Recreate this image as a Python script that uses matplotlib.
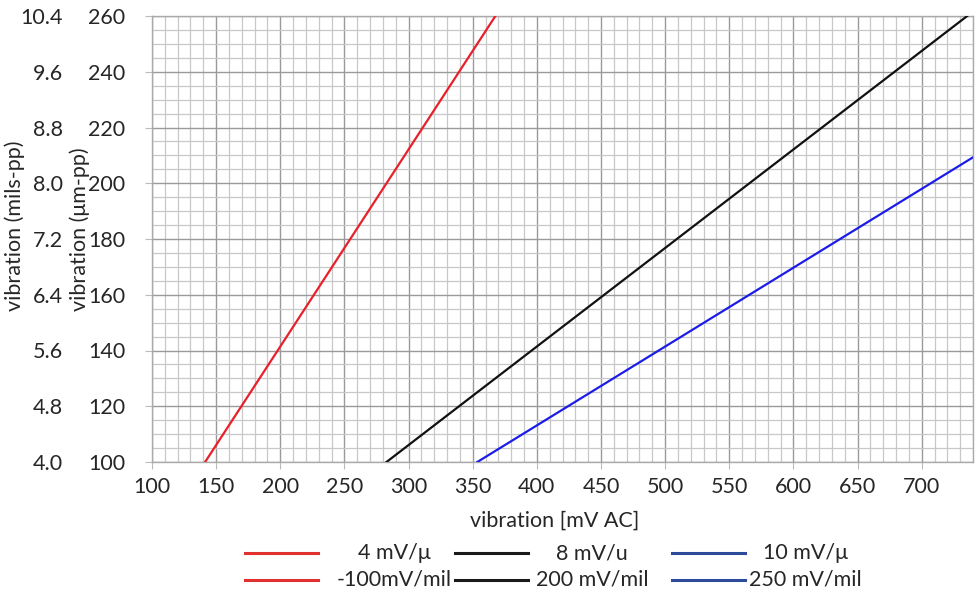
import matplotlib
matplotlib.use("Agg")
import matplotlib.pyplot as plt
from matplotlib.lines import Line2D
import numpy as np

plt.rcParams['font.family'] = ['Lato', 'DejaVu Sans']

# Data (x: mV AC, y: um-pp)
red_x = [141.4, 367.7]
red_y = [100, 260]
black_x = [282.8, 740.0]
black_y = [100, 261.6]
blue_x = [353.6, 740.0]
blue_y = [100, 209.3]

x_ticks = [100, 150, 200, 250, 300, 350, 400, 450, 500, 550, 600, 650, 700]
um_ticks = [100, 120, 140, 160, 180, 200, 220, 240, 260]
mils_labels = ["4.0", "4.8", "5.6", "6.4", "7.2", "8.0", "8.8", "9.6", "10.4"]

legend_row1 = ["4 mV/\u03bc", "8 mV/u", "10 mV/\u03bc"]
legend_row2 = ["-100mV/mil", "200 mV/mil", "250 mV/mil"]

c_red = "#e8202a"
c_black = "#111111"
c_blue = "#1c1ce8"
leg_colors = ["#e03030", "#1a1a1a", "#2e4b9b"]
txt = "#262626"
fs = 15.5

fig = plt.figure(figsize=(9.8, 5.94), dpi=100)
ax = fig.add_axes([152/980, 1-462/594, (973-152)/980, (462-16)/594])

ax.set_xlim(100, 740)
ax.set_ylim(100, 260)
ax.set_xticks(x_ticks)
ax.set_xticks(np.arange(100, 741, 10), minor=True)
ax.set_yticks(um_ticks)
ax.set_yticks(np.arange(100, 261, 5), minor=True)
ax.grid(which='major', color='#9a9a9a', lw=1.0)
ax.grid(which='minor', color='#c8c8c8', lw=0.9)
ax.set_axisbelow(True)
for s in ax.spines.values():
    s.set_color('#aaaaaa')
    s.set_linewidth(1.0)

ax.tick_params(which='major', length=5, color='#bbbbbb', labelsize=fs,
               labelcolor=txt)
ax.tick_params(axis='y', pad=14)
ax.tick_params(axis='x', pad=6)
ax.tick_params(which='minor', length=0)

ax.plot(red_x, red_y, color=c_red, lw=1.6, zorder=3)
ax.plot(black_x, black_y, color=c_black, lw=1.6, zorder=3)
ax.plot(blue_x, blue_y, color=c_blue, lw=1.6, zorder=3)

ax.set_xlabel("vibration [mV AC]", fontsize=fs, color=txt)
ax.xaxis.set_label_coords((555-152)/821, (462-511)/446)
ax.set_ylabel("vibration (\u03bcm-pp)", fontsize=fs, color=txt)
ax.yaxis.set_label_coords((90-152)/821, 0.522)

ax2 = ax.twinx()
ax2.set_ylim(ax.get_ylim())
ax2.yaxis.tick_left()
ax2.yaxis.set_label_position('left')
ax2.set_yticks(um_ticks)
ax2.set_yticklabels(mils_labels)
ax2.tick_params(axis='y', length=0, pad=(152-63)*0.72, labelsize=fs,
                labelcolor=txt)
for s in ax2.spines.values():
    s.set_visible(False)
ax2.set_ylabel("vibration (mils-pp)", fontsize=fs, color=txt)
ax2.yaxis.set_label_coords((25-152)/821, 0.529)

# Legend drawn as rows of line + centered label
line_starts = [245, 455, 672]
line_len = 73
text_centers = [394, 592, 805]
row_y = [553, 580]
for i in range(3):
    for r, labels in enumerate([legend_row1, legend_row2]):
        yf = 1 - row_y[r]/594
        fig.add_artist(Line2D([line_starts[i]/980, (line_starts[i]+line_len)/980],
                              [yf, yf], transform=fig.transFigure,
                              color=leg_colors[i], lw=2.2))
        fig.text(text_centers[i]/980, yf, labels[i], ha='center', va='center',
                 fontsize=fs, color=txt)

fig.savefig("out.png", dpi=100)
